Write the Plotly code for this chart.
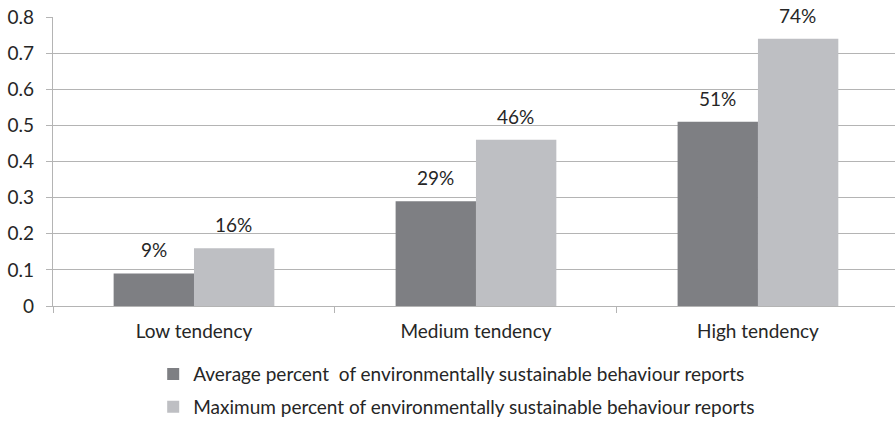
import plotly.graph_objects as go

categories = ["Low tendency", "Medium tendency", "High tendency"]
avg_values = [0.09, 0.29, 0.51]
max_values = [0.16, 0.46, 0.74]
avg_labels = ["9%", "29%", "51%"]
max_labels = ["16%", "46%", "74%"]
y_ticks = [0, 0.1, 0.2, 0.3, 0.4, 0.5, 0.6, 0.7, 0.8]
y_tick_text = ["0", "0.1", "0.2", "0.3", "0.4", "0.5", "0.6", "0.7", "0.8"]
series_names = [
    "Average percent\u00a0 of environmentally sustainable behaviour reports",
    "Maximum percent of environmentally sustainable behaviour reports",
]

FONT = "Lato"
FS = 19
TXT = "#262626"
GRID = "#b4b4b4"

fig = go.Figure()
fig.add_trace(go.Bar(x=categories, y=avg_values, name=series_names[0],
                     marker=dict(color="#7e7f83", line=dict(width=0)),
                     legendgroup="a"))
fig.add_trace(go.Bar(x=categories, y=max_values, name=series_names[1],
                     marker=dict(color="#bebfc3", line=dict(width=0)),
                     legendgroup="b"))

for cat, v, t in zip(categories, avg_values, avg_labels):
    fig.add_annotation(x=cat, y=v, text=t, showarrow=False, xshift=-40,
                       yanchor="bottom", yshift=10,
                       font=dict(family=FONT, size=FS, color=TXT))
for cat, v, t in zip(categories, max_values, max_labels):
    fig.add_annotation(x=cat, y=v, text=t, showarrow=False, xshift=40,
                       yanchor="bottom", yshift=10,
                       font=dict(family=FONT, size=FS, color=TXT))

fig.update_layout(
    width=895, height=424,
    margin=dict(l=53, r=0, t=17, b=118, autoexpand=False),
    plot_bgcolor="white", paper_bgcolor="white",
    barmode="group", bargap=0.43, bargroupgap=0,
    font=dict(family=FONT, size=FS, color=TXT),
    legend=dict(orientation="v", x=0.119, xanchor="left", y=-0.17, yanchor="top",
                font=dict(family=FONT, size=FS, color=TXT),
                itemwidth=30, tracegroupgap=5, traceorder="grouped"),
    showlegend=True,
)
fig.update_xaxes(
    range=[-0.5, 2.486], showline=True, linecolor=GRID, linewidth=1.3,
    ticks="outside", tickson="boundaries", ticklen=6, tickcolor=GRID,
    ticklabelstandoff=8,
    showgrid=False, tickfont=dict(family=FONT, size=FS, color=TXT),
)
fig.update_yaxes(
    range=[0, 0.8], tickvals=y_ticks, ticktext=y_tick_text,
    showline=True, linecolor=GRID, linewidth=1.3,
    ticks="outside", ticklen=6, tickcolor=GRID, ticklabelstandoff=8,
    showgrid=True, gridcolor=GRID, gridwidth=1.3, zeroline=False,
    tickfont=dict(family=FONT, size=FS, color=TXT),
)

fig.write_html("out.html")
